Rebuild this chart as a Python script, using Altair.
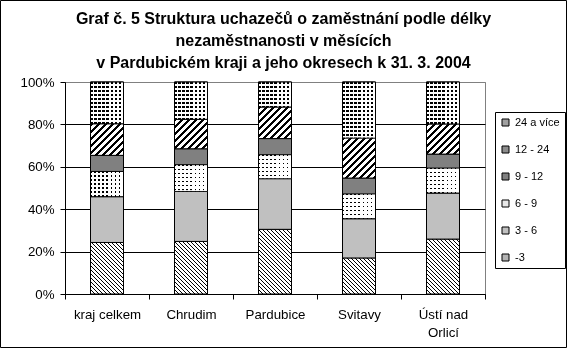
import math
import altair as alt

# ---- data (percent of job seekers) ----
categories = ["kraj celkem", "Chrudim", "Pardubice", "Svitavy", "Ústí nad Orlicí"]
series = ["-3", "3 - 6", "6 - 9", "9 - 12", "12 - 24", "24 a více"]
v_m3 = [24.3, 24.8, 30.5, 17.0, 25.9]
v_3_6 = [21.6, 23.6, 23.9, 18.5, 21.7]
v_6_9 = [11.9, 12.6, 11.3, 11.7, 11.8]
v_9_12 = [7.6, 7.5, 7.6, 7.5, 6.6]
v_12_24 = [14.9, 13.9, 14.9, 18.9, 14.2]
v_24 = [19.7, 17.6, 11.8, 26.4, 19.8]
y_ticks = [0, 0.2, 0.4, 0.6, 0.8, 1.0]
title_lines = [
    "Graf č. 5 Struktura uchazečů o zaměstnání podle délky",
    "nezaměstnanosti v měsících",
    "v Pardubickém kraji a jeho okresech k 31. 3. 2004",
]

# ---- layout / style ----
PLOT_W, PLOT_H = 420, 212
BAR_W = 33
FONT = "Liberation Sans"

legend_order = list(reversed(series))
legend_colors = {"24 a více": "#a0a0a0", "12 - 24": "#8c8c8c", "9 - 12": "#808080",
                 "6 - 9": "#e8e8e8", "3 - 6": "#c0c0c0", "-3": "#b4b4b4"}


def stripe_stops(n, frac, on="black", off="white"):
    stops = []
    for k in range(n):
        a, b, c = k / n, (k + frac) / n, (k + 1) / n
        stops += [{"offset": round(a, 5), "color": on}, {"offset": round(b, 5), "color": on},
                  {"offset": round(b, 5), "color": off}, {"offset": round(min(c, 1), 5), "color": off}]
    return stops


def hatch(w, h, direction, period, frac):
    # 45-degree stripes with an exact pixel period inside a bounding-box gradient
    L = (w + h) / math.sqrt(2)
    n = max(1, math.ceil(L / period))
    s = (w + h) / (w * w + h * h) * (n * period / L)
    if direction == "\\":
        x1, y1, x2, y2 = 0, 1, s * w, 1 - s * h
    else:
        x1, y1, x2, y2 = 0, 0, s * w, s * h
    return {"gradient": "linear", "x1": x1, "y1": y1, "x2": round(x2, 5), "y2": round(y2, 5),
            "stops": stripe_stops(n, frac)}


def lines(length, vertical_gradient, period, frac):
    n = max(1, math.ceil(length / period))
    end = round(n * period / length, 5)
    if vertical_gradient:
        return {"gradient": "linear", "x1": 0, "y1": 0, "x2": 0, "y2": end, "stops": stripe_stops(n, frac)}
    return {"gradient": "linear", "x1": 0, "y1": 0, "x2": end, "y2": 0, "stops": stripe_stops(n, frac)}


def pattern_a(s, h):
    if s == "-3":
        return hatch(BAR_W, h, "\\", 2 * math.sqrt(2), 0.33)
    if s == "12 - 24":
        return hatch(BAR_W, h, "/", 3.5 * math.sqrt(2), 0.45)
    if s == "24 a více":
        return lines(h, True, 4, 0.55)
    if s == "6 - 9":
        return lines(h, True, 4, 0.3)
    return legend_colors[s]


def pattern_b(s, h):
    if s == "24 a více":
        return lines(BAR_W, False, 4, 0.55)
    if s == "6 - 9":
        return lines(BAR_W, False, 4, 0.3)
    return "black"


series_values = [v_m3, v_3_6, v_6_9, v_9_12, v_12_24, v_24]
rows = []
for si, (s, vals) in enumerate(zip(series, series_values)):
    for ci, (c, v) in enumerate(zip(categories, vals)):
        total = sum(sv[ci] for sv in series_values)
        h = v / total * PLOT_H
        rows.append({"category": c, "series": s, "value": v, "idx": si,
                     "patA": pattern_a(s, h), "patB": pattern_b(s, h)})

data = alt.Data(values=rows)

x_enc = alt.X(
    "category:N", sort=categories,
    scale=alt.Scale(paddingInner=0, paddingOuter=0),
    axis=alt.Axis(title=None, labelAngle=0, tickBand="extent", tickSize=5, grid=False,
                  domainColor="black", tickColor="black", labelColor="black",
                  labelFont=FONT, labelFontSize=13.3, labelPadding=8, labelLineHeight=18,
                  labelExpr="datum.label == 'Ústí nad Orlicí' ? ['Ústí nad', 'Orlicí'] : datum.label"),
)
y_enc = alt.Y(
    "value:Q", stack="normalize", scale=alt.Scale(domain=[0, 1]),
    axis=alt.Axis(title=None, values=y_ticks, format="%", grid=True,
                  gridColor={"condition": {"test": "datum.value >= 1", "value": "#808080"}, "value": "black"},
                  domainColor="black", tickColor="black", tickSize=5, labelColor="black",
                  labelFont=FONT, labelFontSize=13.3, labelPadding=6),
)
order_enc = alt.Order("idx:Q", sort="ascending")

base = alt.Chart(data).mark_bar(stroke="black", strokeWidth=1, width=BAR_W).encode(
    x=x_enc, y=y_enc, order=order_enc,
    fill=alt.Fill("series:N",
                  scale=alt.Scale(domain=legend_order, range=[legend_colors[s] for s in legend_order]),
                  legend=alt.Legend(title=None, orient="none", legendX=430, legendY=30,
                                    strokeColor="black", fillColor="white", padding=5,
                                    symbolType="square", symbolSize=49, symbolStrokeColor="black",
                                    symbolStrokeWidth=1, labelFont=FONT, labelFontSize=11,
                                    labelColor="black", labelOffset=4, rowPadding=15)),
)

layer_a = alt.Chart(data).mark_bar(stroke="black", strokeWidth=1, width=BAR_W).encode(
    x=x_enc, y=y_enc, order=order_enc, fill=alt.Fill("patA:N", scale=None),
)

layer_b = alt.Chart(data).mark_bar(stroke="black", strokeWidth=1, blend="screen", width=BAR_W).encode(
    x=x_enc, y=y_enc, order=order_enc, fill=alt.Fill("patB:N", scale=None),
)

frame = alt.Chart(alt.Data(values=[{"k": 1}])).mark_rect(filled=False, stroke="black", strokeWidth=1).encode(
    x=alt.value(-64.5), x2=alt.value(501.5), y=alt.value(-81.5), y2=alt.value(265.5),
)

chart = alt.layer(base, layer_a, layer_b, frame).properties(
    width=PLOT_W, height=PLOT_H,
    title=alt.TitleParams(text=title_lines, font=FONT, fontSize=16, fontWeight="bold", color="black",
                          anchor="middle", frame="group", dx=8.5, lineHeight=22, offset=-71),
    padding={"left": 65, "top": 82, "right": 82, "bottom": 54},
    autosize=alt.AutoSizeParams(type="none"),
).configure(background="white", font=FONT).configure_view(stroke="#808080", strokeWidth=1)

chart.save("out.html", embed_options={"renderer": "svg", "actions": False})
